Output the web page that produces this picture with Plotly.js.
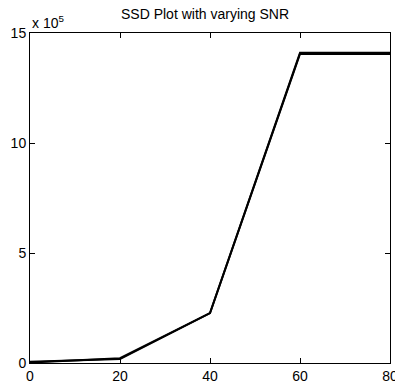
<!DOCTYPE html>
<html><head><meta charset="utf-8">
<script src="https://cdn.plot.ly/plotly-3.0.1.min.js"></script>
<style>html,body{margin:0;padding:0;background:#fff;}</style>
</head><body>
<div id="chart" style="width:395px;height:387px;"></div>
<script>
const snr = [0, 20, 40, 60, 80];
const ssdA = [0.02, 0.22, 2.27, 14.1, 14.1];   // x 10^5
const ssdB = [0.06, 0.18, 2.27, 14.05, 14.05]; // x 10^5 (overlapping run)
const xTicks = [0, 20, 40, 60, 80];
const yTicks = [0, 5, 10, 15];
const titleText = 'SSD Plot with varying SNR';

const font = {family: 'Liberation Sans, Arial, sans-serif', size: 14, color: '#000'};
const traces = [
  {x: snr, y: ssdA, mode: 'lines', line: {color: '#000', width: 2}, hoverinfo: 'skip'},
  {x: snr, y: ssdB, mode: 'lines', line: {color: '#000', width: 2}, hoverinfo: 'skip'}
];
const axisCommon = {
  showline: true, linecolor: '#000', linewidth: 1, mirror: 'ticks',
  ticks: 'inside', ticklen: 5, tickcolor: '#000', showgrid: false, zeroline: false,
  tickfont: font, ticklabeloverflow: 'allow'
};
const layout = {
  width: 395, height: 387,
  margin: {l: 30, r: 5, t: 33, b: 24},
  paper_bgcolor: '#fff', plot_bgcolor: '#fff',
  showlegend: false,
  font: font,
  title: {text: titleText, font: {family: font.family, size: 14, color: '#000'}, x: 0.519, xanchor: 'center', y: 0.975, yanchor: 'top'},
  xaxis: Object.assign({}, axisCommon, {range: [0, 80], tickvals: xTicks, ticktext: xTicks.map(String)}),
  yaxis: Object.assign({}, axisCommon, {range: [0, 15], tickvals: yTicks, ticktext: yTicks.map(String)}),
  annotations: [{
    text: 'x 10<sup>5</sup>', xref: 'paper', yref: 'paper', x: 0, y: 1,
    xanchor: 'left', yanchor: 'bottom', showarrow: false, font: font, yshift: 0
  }]
};
Plotly.newPlot('chart', traces, layout, {displayModeBar: false, staticPlot: true});
</script>
</body></html>
